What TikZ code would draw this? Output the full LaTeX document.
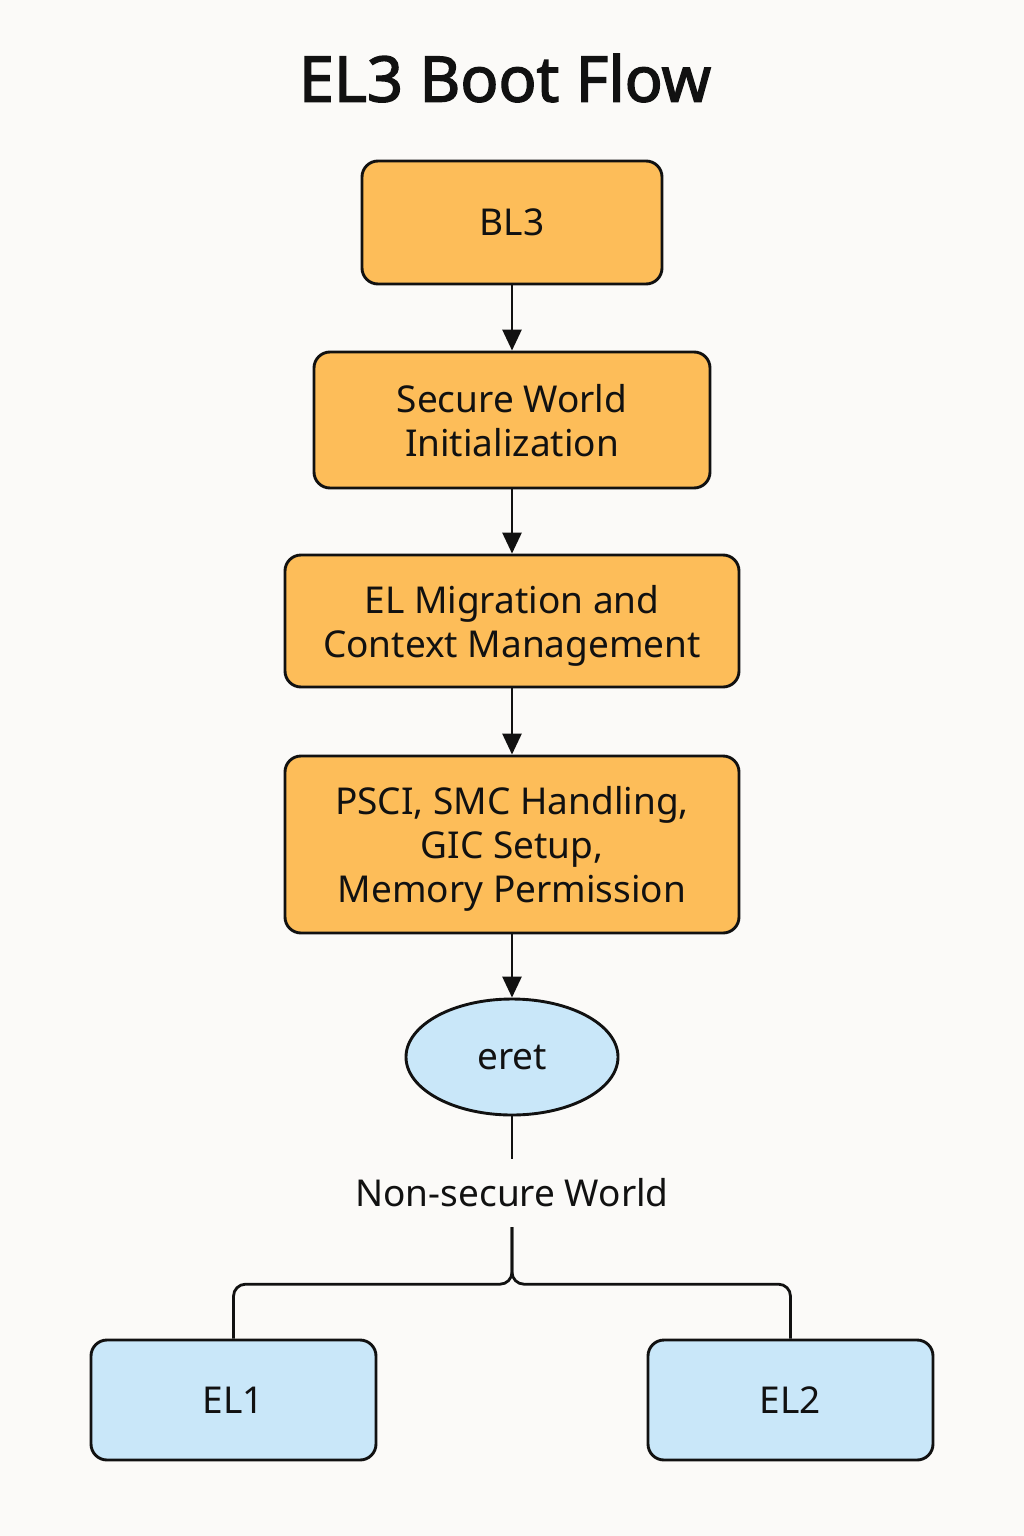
\documentclass[tikz,border=0pt]{standalone}
\usepackage{fontspec}
\setmainfont{Noto Sans}[AutoFakeBold=2.2]
\usetikzlibrary{arrows.meta,shapes.geometric}
\definecolor{bgc}{HTML}{FBFAF8}
\definecolor{orangefill}{HTML}{FDBD59}
\definecolor{bluefill}{HTML}{C9E7F9}
\definecolor{inkc}{HTML}{111111}
\tikzset{
  orangebox/.style={draw=inkc, line width=2.9pt, fill=orangefill, rounded corners=16pt,
    align=center, inner sep=0pt, text depth=0pt, font=\fontsize{37}{44}\selectfont, text=inkc},
  bluebox/.style={draw=inkc, line width=2.9pt, fill=bluefill, rounded corners=16pt,
    align=center, inner sep=0pt, font=\fontsize{37}{44}\selectfont, text=inkc},
  blueoval/.style={draw=inkc, line width=2.9pt, fill=bluefill, ellipse, inner sep=0pt,
    font=\fontsize{37}{44}\selectfont, text=inkc},
  flowarrow/.style={draw=inkc, line width=2.8pt, -{Triangle[length=21pt,width=19pt]}},
  flowline/.style={draw=inkc, line width=2.8pt},
  plainlabel/.style={inner sep=0pt, font=\fontsize{37}{44}\selectfont, text=inkc},
}
\begin{document}
\begin{tikzpicture}[x=1pt,y=-1pt]
\fill[bgc] (0,0) rectangle (1024,1536);
\useasboundingbox (0,0) rectangle (1024,1536);

\node[inner sep=0pt, font=\bfseries\fontsize{63}{70}\selectfont, text=inkc] (title) at (505,78) {EL3 Boot Flow};

\node[orangebox, minimum width=300pt, minimum height=123pt] (bl3) at (512,222.5) {BL3};
\node[orangebox, minimum width=396pt, minimum height=136pt] (swi) at (512,420) {Secure World\\Initialization};
\node[orangebox, minimum width=454pt, minimum height=132pt] (elm) at (512,621) {EL Migration and\\Context Management};
\node[orangebox, minimum width=454pt, minimum height=177pt] (psci) at (512,844.5) {PSCI, SMC Handling,\\GIC Setup,\\Memory Permission};
\node[blueoval, minimum width=212pt, minimum height=116pt] (eret) at (512,1057) {eret};
\node[plainlabel, minimum height=68pt] (nsw) at (512,1193) {Non-secure World};
\node[bluebox, minimum width=285pt, minimum height=120pt] (el1) at (233.5,1400) {EL1};
\node[bluebox, minimum width=285pt, minimum height=120pt] (el2) at (790.5,1400) {EL2};

\draw[flowarrow] (bl3) -- (swi);
\draw[flowarrow] (swi) -- (elm);
\draw[flowarrow] (elm) -- (psci);
\draw[flowarrow] (psci) -- (eret);
\draw[flowline] (eret) -- (nsw);
\draw[flowline, rounded corners=12pt] (nsw.south) -- ++(0,57) -| (el1.north);
\draw[flowline, rounded corners=12pt] (nsw.south) -- ++(0,57) -| (el2.north);
\end{tikzpicture}
\end{document}
